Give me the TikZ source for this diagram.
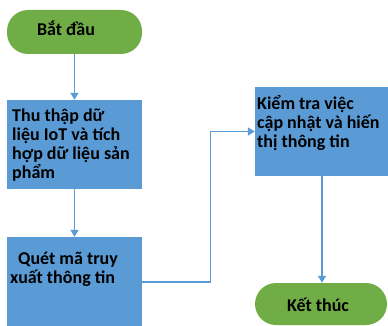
\documentclass[tikz,border=0pt]{standalone}
\usepackage{fontspec}
\setmainfont{Carlito}
\usetikzlibrary{arrows.meta}
\definecolor{termgreen}{HTML}{70AD47}
\definecolor{stepblue}{HTML}{5B9BD5}
\definecolor{linkblue}{HTML}{5B9BD5}
\begin{document}
\begin{tikzpicture}[x=1pt,y=-1pt,
  terminal/.style={fill=termgreen,draw=none,rounded corners=21pt,inner sep=0pt},
  stepbox/.style={fill=stepblue,draw=none,inner sep=0pt},
  label/.style={font=\fontsize{18}{19}\selectfont\bfseries,align=left,inner sep=0pt,text=black},
  link/.style={draw=linkblue,line width=1.4pt,-{Triangle[width=8pt,length=7pt]}}]
\useasboundingbox (0,0) rectangle (388,326);
\begin{scope}
\clip (0,0) rectangle (388,326);
% terminals and process boxes
\node[terminal,minimum width=135pt,minimum height=44pt] (s) at (74.5,32) {};
\node[stepbox,minimum width=135pt,minimum height=89pt] (b1) at (74.5,144.5) {};
\node[stepbox,minimum width=135pt,minimum height=90pt] (b2) at (74.5,282) {};
\node[stepbox,minimum width=135pt,minimum height=89pt] (b3) at (322.5,131.5) {};
\node[terminal,minimum width=132pt,minimum height=42pt] (e) at (321,304) {};
% texts
\node[label,anchor=center] (ts) at (66,28) {Bắt đầu};
\node[label,anchor=north west] (t1) at (12,109) {Thu thập dữ\\liệu IoT và tích\\hợp dữ liệu sản\\phẩm};
\node[label,anchor=north west] (t2) at (10,252) {\hspace*{8pt}Quét mã truy\\xuất thông tin};
\node[label,anchor=north west] (t3) at (257,95) {Kiểm tra việc\\cập nhật và hiến\\thị thông tin};
\node[label,anchor=center] (te) at (318,305) {Kết thúc};
% connectors
\draw[link] (s.south) -- (b1.north);
\draw[link] (b1.south) -- (b2.north);
\draw[link] (b2.east) -- ++(68,0) |- (b3.west);
\draw[link] ([xshift=-0.5pt]b3.south) -- ([xshift=-0.5pt]b3.south |- e.north);
\end{scope}
\end{tikzpicture}
\end{document}
